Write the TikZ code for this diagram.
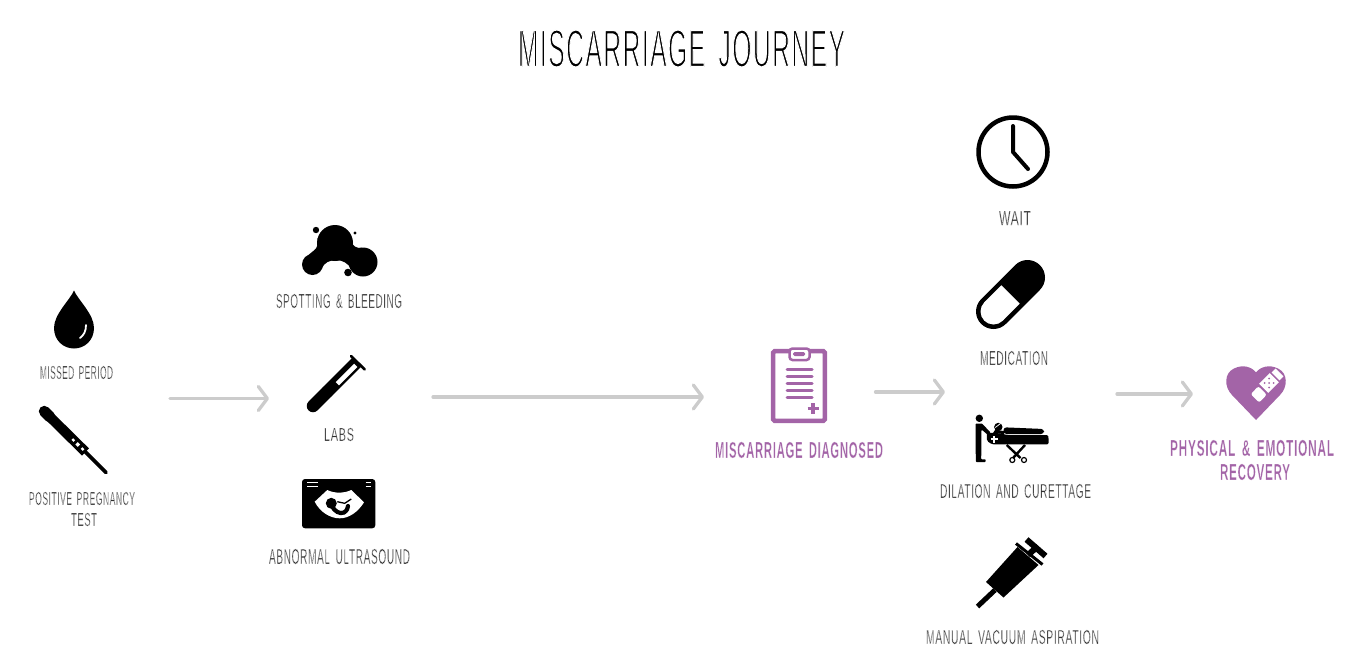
\documentclass[tikz,border=0pt]{standalone}
\usepackage{fontspec}
\usepackage{graphicx}
\setmainfont[LetterSpace=6,WordSpace=1.6]{Liberation Sans}
\usetikzlibrary{arrows.meta}
\definecolor{lblgray}{HTML}{2E2E2E}
\definecolor{purp}{HTML}{A364A7}
\definecolor{arrgray}{HTML}{CCCCCC}
% [white outline that thins the glyphs], width, height, text
\newcommand{\fitlbl}[4][.14]{\resizebox{#2pt}{#3pt}{\special{pdf:code 2 Tr 1 1 1 RG #1 w}#4\special{pdf:code 0 Tr}}}
\tikzset{
  lbl/.style={inner sep=0pt,outer sep=0pt,text=lblgray},
  plbl/.style={inner sep=0pt,outer sep=0pt,text=purp,font=\bfseries},
  flow/.style={draw=arrgray,line width=3.3pt,line cap=round,-{Straight Barb[length=9pt,width=24pt,line width=3.3pt,round]}},
  ink/.style={fill=black,draw=none},
  pink/.style={fill=purp,draw=none}
}
\begin{document}
\begin{tikzpicture}[x=1pt,y=-1pt]
\useasboundingbox (0,0) rectangle (1365,670);
% title
\node[inner sep=0pt,text=black] (title) at (681.5,48.5) {\fitlbl[.3]{327}{37}{MISCARRIAGE JOURNEY}};
% labels
\node[lbl] (missed) at (76.5,372.5) {\fitlbl{73}{13}{MISSED PERIOD}};
\node[lbl] (pos1) at (82,498.5) {\fitlbl{106}{13}{POSITIVE PREGNANCY}};
\node[lbl] (pos2) at (84,519.5) {\fitlbl{26}{13}{TEST}};
\node[lbl] (spot) at (339,301) {\fitlbl{126}{14}{SPOTTING \& BLEEDING}};
\node[lbl] (labs) at (339,434.5) {\fitlbl{30}{13}{LABS}};
\node[lbl] (abn) at (339.5,556.5) {\fitlbl{141}{15}{ABNORMAL ULTRASOUND}};
\node[plbl] (diag) at (799,450) {\fitlbl[.08]{168}{16}{MISCARRIAGE DIAGNOSED}};
\node[lbl] (wait) at (1015,218) {\fitlbl{32}{14}{WAIT}};
\node[lbl] (med) at (1014,358) {\fitlbl{68}{14}{MEDICATION}};
\node[lbl] (dil) at (1015.5,491) {\fitlbl{151}{14}{DILATION AND CURETTAGE}};
\node[lbl] (mva) at (1012.5,637) {\fitlbl{173}{14}{MANUAL VACUUM ASPIRATION}};
\node[plbl] (phys) at (1252,448) {\fitlbl[.08]{164}{16}{PHYSICAL \& EMOTIONAL}};
\node[plbl] (rec) at (1255,472) {\fitlbl[.08]{70}{16}{RECOVERY}};
% arrows
\coordinate (a1s) at (170,398.5); \coordinate (a1e) at (269,398.5);
\coordinate (a2s) at (433,397); \coordinate (a2e) at (704,397);
\coordinate (a3s) at (875.5,392); \coordinate (a3e) at (945,392);
\coordinate (a4s) at (1117,394); \coordinate (a4e) at (1193,394);
\draw[flow] (a1s) -- (a1e);
\draw[flow] (a2s) -- (a2e);
\draw[flow] (a3s) -- (a3e);
\draw[flow] (a4s) -- (a4e);
% drop
\fill[ink] (74,290.5) .. controls (70,300) and (54,314) .. (54,328) .. controls (54,340) and (63,348.5) .. (74,348.5) .. controls (85,348.5) and (94,340) .. (94,328) .. controls (94,314) and (78,300) .. (74,290.5) -- cycle;
\draw[white,line width=1.8pt,line cap=round] (86,325) .. controls (86,331) and (84,335) .. (80,338);
% pregnancy test
\draw[black,line width=11pt,line cap=round] (44.3,411.3) -- (50,417);
\draw[black,line width=10pt] (47,414) -- (85.5,452);
\draw[black,line width=3.6pt,line cap=round] (84,450.5) -- (106,472.5);
\draw[white,line width=2.4pt] (72.3,439) -- (74.3,441);
\draw[white,line width=3.4pt] (76.5,443.3) -- (78.9,445.7);
\draw[white,line width=2.4pt] (81.5,448) -- (83.5,450);
% spots
\fill[ink] (335,243) circle (18);
\fill[ink] (312.5,264.5) circle (10.5);
\fill[ink] (363,262) circle (14.5);
\fill[ink] (316,230) circle (3.2);
\fill[ink] (355,233) circle (1.6);
\fill[ink] (348,272.5) circle (3.8);
\fill[ink] (317.5,238) .. controls (320,248) and (314,250) .. (309,254.5) -- (322,268) .. controls (326,258) and (345,256) .. (352,270) -- (362,248) .. controls (356,248) and (353,247) .. (351,240) -- cycle;
% test tube
\draw[black,line width=12.5pt,line cap=round] (313,406) -- (327,392);
\draw[black,line width=12.5pt] (327,392) -- (357,362);
\draw[white,line width=4.6pt] (337.3,383.7) -- (355.7,365.3);
\fill[white] (359,353) -- (354,358) -- (350,354) -- cycle;
\draw[black,line width=2.6pt,line cap=round] (351,356) -- (364.8,369.5);
% ultrasound
\fill[ink,rounded corners=3pt] (302,479) rectangle (375.3,528.3);
\fill[white] (314.7,501.7) -- (327.3,490) .. controls (334,493.5) and (344,493.5) .. (351.3,490) -- (364,502.3) .. controls (358,512) and (349,518.3) .. (339.7,518.3) .. controls (330,518.3) and (320,512) .. (314.7,501.7) -- cycle;
\fill[ink] (331.3,503.3) circle (5.5);
\draw[black,line width=4.2pt,line cap=round] (332,506) .. controls (334,511) and (340,514.5) .. (344,512.5) .. controls (347,510.5) and (348,508) .. (348,506);
\draw[black,line width=1.3pt] (337.3,501.7) -- (344.7,503.3) -- (351.3,499);
\draw[white,line width=1.4pt] (307.3,482.5) -- (318,482.5) (307.3,486.7) -- (318,486.7) (365.7,482.5) -- (370.7,482.5) (365.7,486.7) -- (370.7,486.7);
% clipboard
\draw[purp,line width=4.5pt,rounded corners=1.5pt,fill=white] (773.2,351.2) rectangle (824.8,420.8);
\draw[purp,line width=2.5pt,rounded corners=3pt,fill=white] (789.5,348.5) rectangle (809.5,360);
\fill[pink,rounded corners=1.5pt] (793,352) rectangle (805,356);
\foreach \yy in {369,376,383,390,397}{\draw[purp,line width=3pt,line cap=round] (787,\yy) -- (812,\yy);}
\draw[purp,line width=3.6pt] (807.5,408.5) -- (819,408.5) (813.2,403) -- (813.2,414);
% clock
\draw[black,line width=4.5pt] (1013,152) circle (34.5);
\draw[black,line width=4pt,line cap=round,line join=round] (1013,126) -- (1013,152) -- (1028,169);
% pill
\draw[black,line width=35pt,line cap=round] (993.5,311.5) -- (1027.5,277.5);
\fill[white] (993.5,311.5) circle (13);
\draw[white,line width=26pt] (993.5,311.5) -- (1010.5,294.5);
% bed
\fill[ink] (979.3,418.3) circle (3.7);
\fill[ink,rounded corners=.8pt] (975.5,423.5) -- (982,423.5) -- (990.5,432.5) -- (988,435) -- (981.5,429.5) -- (981.2,459.3) -- (985.7,459.3) -- (985.7,462) -- (975.8,462) -- cycle;
\fill[ink,rounded corners=1.5pt] (986.8,432.5) -- (1001.7,433.5) -- (1006.7,435) -- (1048.3,435) -- (1048.8,444.3) -- (992,444.3) -- (987,441) -- cycle;
\fill[ink,rounded corners=3pt] (1003.5,427.3) -- (1044,429) -- (1044,434) -- (1003.5,434) -- cycle;
\fill[ink] (998.3,427) circle (4.2);
\fill[ink] (995,430) -- (1004,431) -- (1004,434) -- (993,433) -- cycle;
\draw[white,line width=.8pt] (995.3,427.5) -- (1000.5,423.5);
\draw[white,line width=1.8pt] (990.5,439.3) -- (998,439.3) (994.3,435.8) -- (994.3,442.8);
\draw[black,line width=2.4pt] (1006.7,445) -- (1020.5,458) (1025,445) -- (1013,458);
\draw[black,line width=1.2pt] (1012.3,460) circle (2.5) (1024,460) circle (2.5);
% syringe
\draw[black,line width=5pt] (977.5,606.5) -- (995,590);
\fill[ink] (986,582) -- (1017.5,547) -- (1038.5,565) -- (1003.5,597.5) -- cycle;
\draw[black,line width=3pt] (1016,543.5) -- (1042.5,564.5);
\draw[black,line width=6pt] (1028,555) -- (1038,546);
\draw[black,line width=6pt] (1026.5,539.5) -- (1045.5,556);
% heart
\fill[pink] (1256,420) -- (1232,395) .. controls (1224,387) and (1224,373) .. (1234,368.5) .. controls (1243,364) and (1252,367) .. (1256,372.5) .. controls (1260,367) and (1269,364) .. (1278,368.5) .. controls (1288,373) and (1288,387) .. (1280,395) -- cycle;
\fill[white,rounded corners=2pt] (1250.8,394.1) -- (1259.2,402.5) -- (1266.7,394.7) -- (1258.3,386.3) -- cycle;
\draw[white,line width=13pt] (1263.7,388.3) -- (1274.3,377.7);
\draw[white,line width=11pt] (1275.5,376.5) -- (1279.5,372.5);
\fill[purp] (1264.5,383) circle (1) (1269,378.5) circle (1) (1273.5,383) circle (1) (1269,387.5) circle (1) (1269,383) circle (1);
\end{tikzpicture}
\end{document}
